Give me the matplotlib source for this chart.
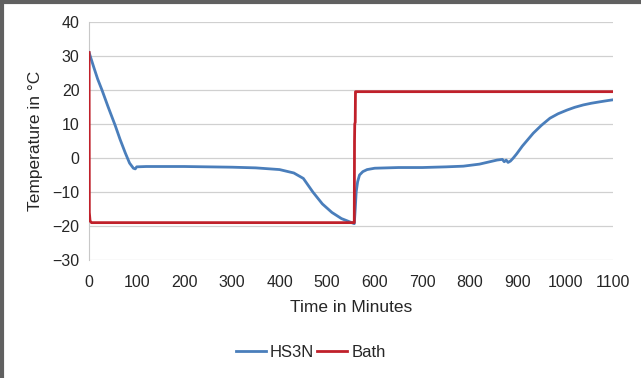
import numpy as np
import matplotlib
matplotlib.use('Agg')
import matplotlib.pyplot as plt
from matplotlib.lines import Line2D

plt.rcParams['font.family'] = ['Liberation Sans', 'DejaVu Sans']

# HS3N probe temperature
hs_t = [0, 5, 10, 18, 27, 40, 55, 65, 76, 85, 93, 97, 100, 120, 200, 300, 350, 400, 430,
        450, 470, 490, 510, 530, 548, 557, 559, 561, 564, 568, 575, 584, 600, 650, 700,
        750, 786, 820, 857, 868, 872, 876, 880, 885, 891, 898, 910, 933, 950, 968, 985,
        1004, 1020, 1038, 1055, 1072, 1090, 1100]
hs_v = [31, 28.8, 26.6, 23.2, 20, 15, 9.5, 5.5, 1.5, -1.5, -3.0, -3.2, -2.6, -2.5, -2.5, -2.7,
        -2.9, -3.4, -4.4, -6, -10, -13.5, -16, -17.8, -18.8, -19.3, -15, -10, -7, -5,
        -4.0, -3.4, -3.0, -2.8, -2.8, -2.6, -2.4, -1.8, -0.6, -0.4, -1.1, -0.6, -1.3,
        -0.9, 0, 1.2, 3.5, 7.3, 9.6, 11.7, 13.0, 14.1, 14.9, 15.6, 16.1, 16.5, 16.9, 17.1]

# Bath temperature
bath_t = [0, 0.5, 2, 5, 10, 300, 555, 557, 557.5, 558, 559, 559.5, 560, 700, 1100]
bath_v = [31, -16, -18.5, -19, -19, -19, -19, -19, 5, 10, 10.5, 19.5, 19.5, 19.5, 19.5]

fig = plt.figure(figsize=(6.41, 3.78), dpi=100)
ax = fig.add_axes([0.139, 0.312, 0.817, 0.630])

blue = '#4a7ebb'
red = '#c0202a'
ax.plot(hs_t, hs_v, color=blue, lw=2.0, label='HS3N', zorder=3)
ax.plot(bath_t, bath_v, color=red, lw=2.0, label='Bath', zorder=4)

ax.set_xlim(0, 1100)
ax.set_ylim(-30, 40)
ax.set_xticks(range(0, 1101, 100))
ax.set_yticks(range(-30, 41, 10))
ax.tick_params(length=0, labelsize=11.5, labelcolor='#262626')
ax.tick_params(axis='x', pad=11)
ax.tick_params(axis='y', pad=7)
ax.yaxis.grid(True, color='#d0d0d0', lw=0.9)
ax.set_axisbelow(True)
for s in ['top', 'right', 'bottom']:
    ax.spines[s].set_visible(False)
ax.spines['left'].set_color('#c8c8c8')

ax.set_xlabel('Time in Minutes', fontsize=12.5, color='#262626', labelpad=7)
ax.set_ylabel('Temperature in °C', fontsize=12.5, color='#262626', labelpad=7)

leg = fig.legend(handles=[Line2D([], [], color=blue, lw=2.0), Line2D([], [], color=red, lw=2.0)],
                 labels=['HS3N', 'Bath'], loc='center', bbox_to_anchor=(0.485, 0.068),
                 ncol=2, frameon=False, fontsize=12, handlelength=1.8,
                 columnspacing=0.2, handletextpad=0.25)
for t in leg.get_texts():
    t.set_color('#262626')

# window frame (left and top edges)
fig.add_artist(Line2D([0.003, 0.003], [0, 1], transform=fig.transFigure, color='#606060', lw=3))
fig.add_artist(Line2D([0, 1], [0.995, 0.995], transform=fig.transFigure, color='#606060', lw=3))

fig.savefig('out.png', dpi=100)
